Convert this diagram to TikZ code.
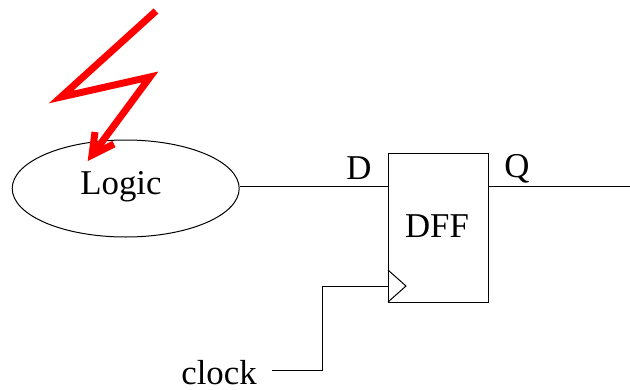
\documentclass[tikz,border=0pt]{standalone}
\usepackage{fontspec}
\usetikzlibrary{shapes.geometric}
\setmainfont{Liberation Serif}
\tikzset{px/.style={x=1pt,y=-1pt},lbl/.style={inner sep=0pt,font=\fontsize{34.8}{34.8}\selectfont},wire/.style={draw=black,line width=1pt},bolt/.style={draw=red,line width=7pt,miter limit=10}}
\begin{document}
\begin{tikzpicture}[px]
\useasboundingbox (0,0) rectangle (630,389);
\node[draw=black,line width=1pt,ellipse,minimum width=227pt,minimum height=97pt,inner sep=0pt] (logic) at (125.7,188.5) {};
\node[lbl] (logict) at (121,186.7) {Logic};
\node[draw=black,line width=1pt,rectangle,minimum width=100.5pt,minimum height=149.5pt,inner sep=0pt] (dff) at (438.3,227.8) {};
\node[lbl] (dfft) at (437,226) {DFF};
\node[lbl] (d) at (359,168) {D};
\node[lbl] (q) at (517,169) {Q};
\node[lbl] (clock) at (219,373) {clock};
\coordinate (qe) at (630,186);
\coordinate (ck) at (388,286);
\coordinate (cs) at (272,370);
\coordinate (ctop) at (388,270);
\coordinate (cbot) at (388,302);
\coordinate (ctip) at (406,286);
\draw[wire] (logic.east |- qe) -- (dff.west |- qe);
\draw[wire] (dff.east |- qe) -- (qe);
\draw[wire] (cs) -- (322,370) -- (322,286) -- (ck);
\draw[wire] (ctop) -- (ctip) -- (cbot);
\draw[bolt] (156,11) -- (61,97) -- (150,77) -- (93,154);
\draw[bolt] (95,132) -- (92,155) -- (114,144);
\end{tikzpicture}
\end{document}
